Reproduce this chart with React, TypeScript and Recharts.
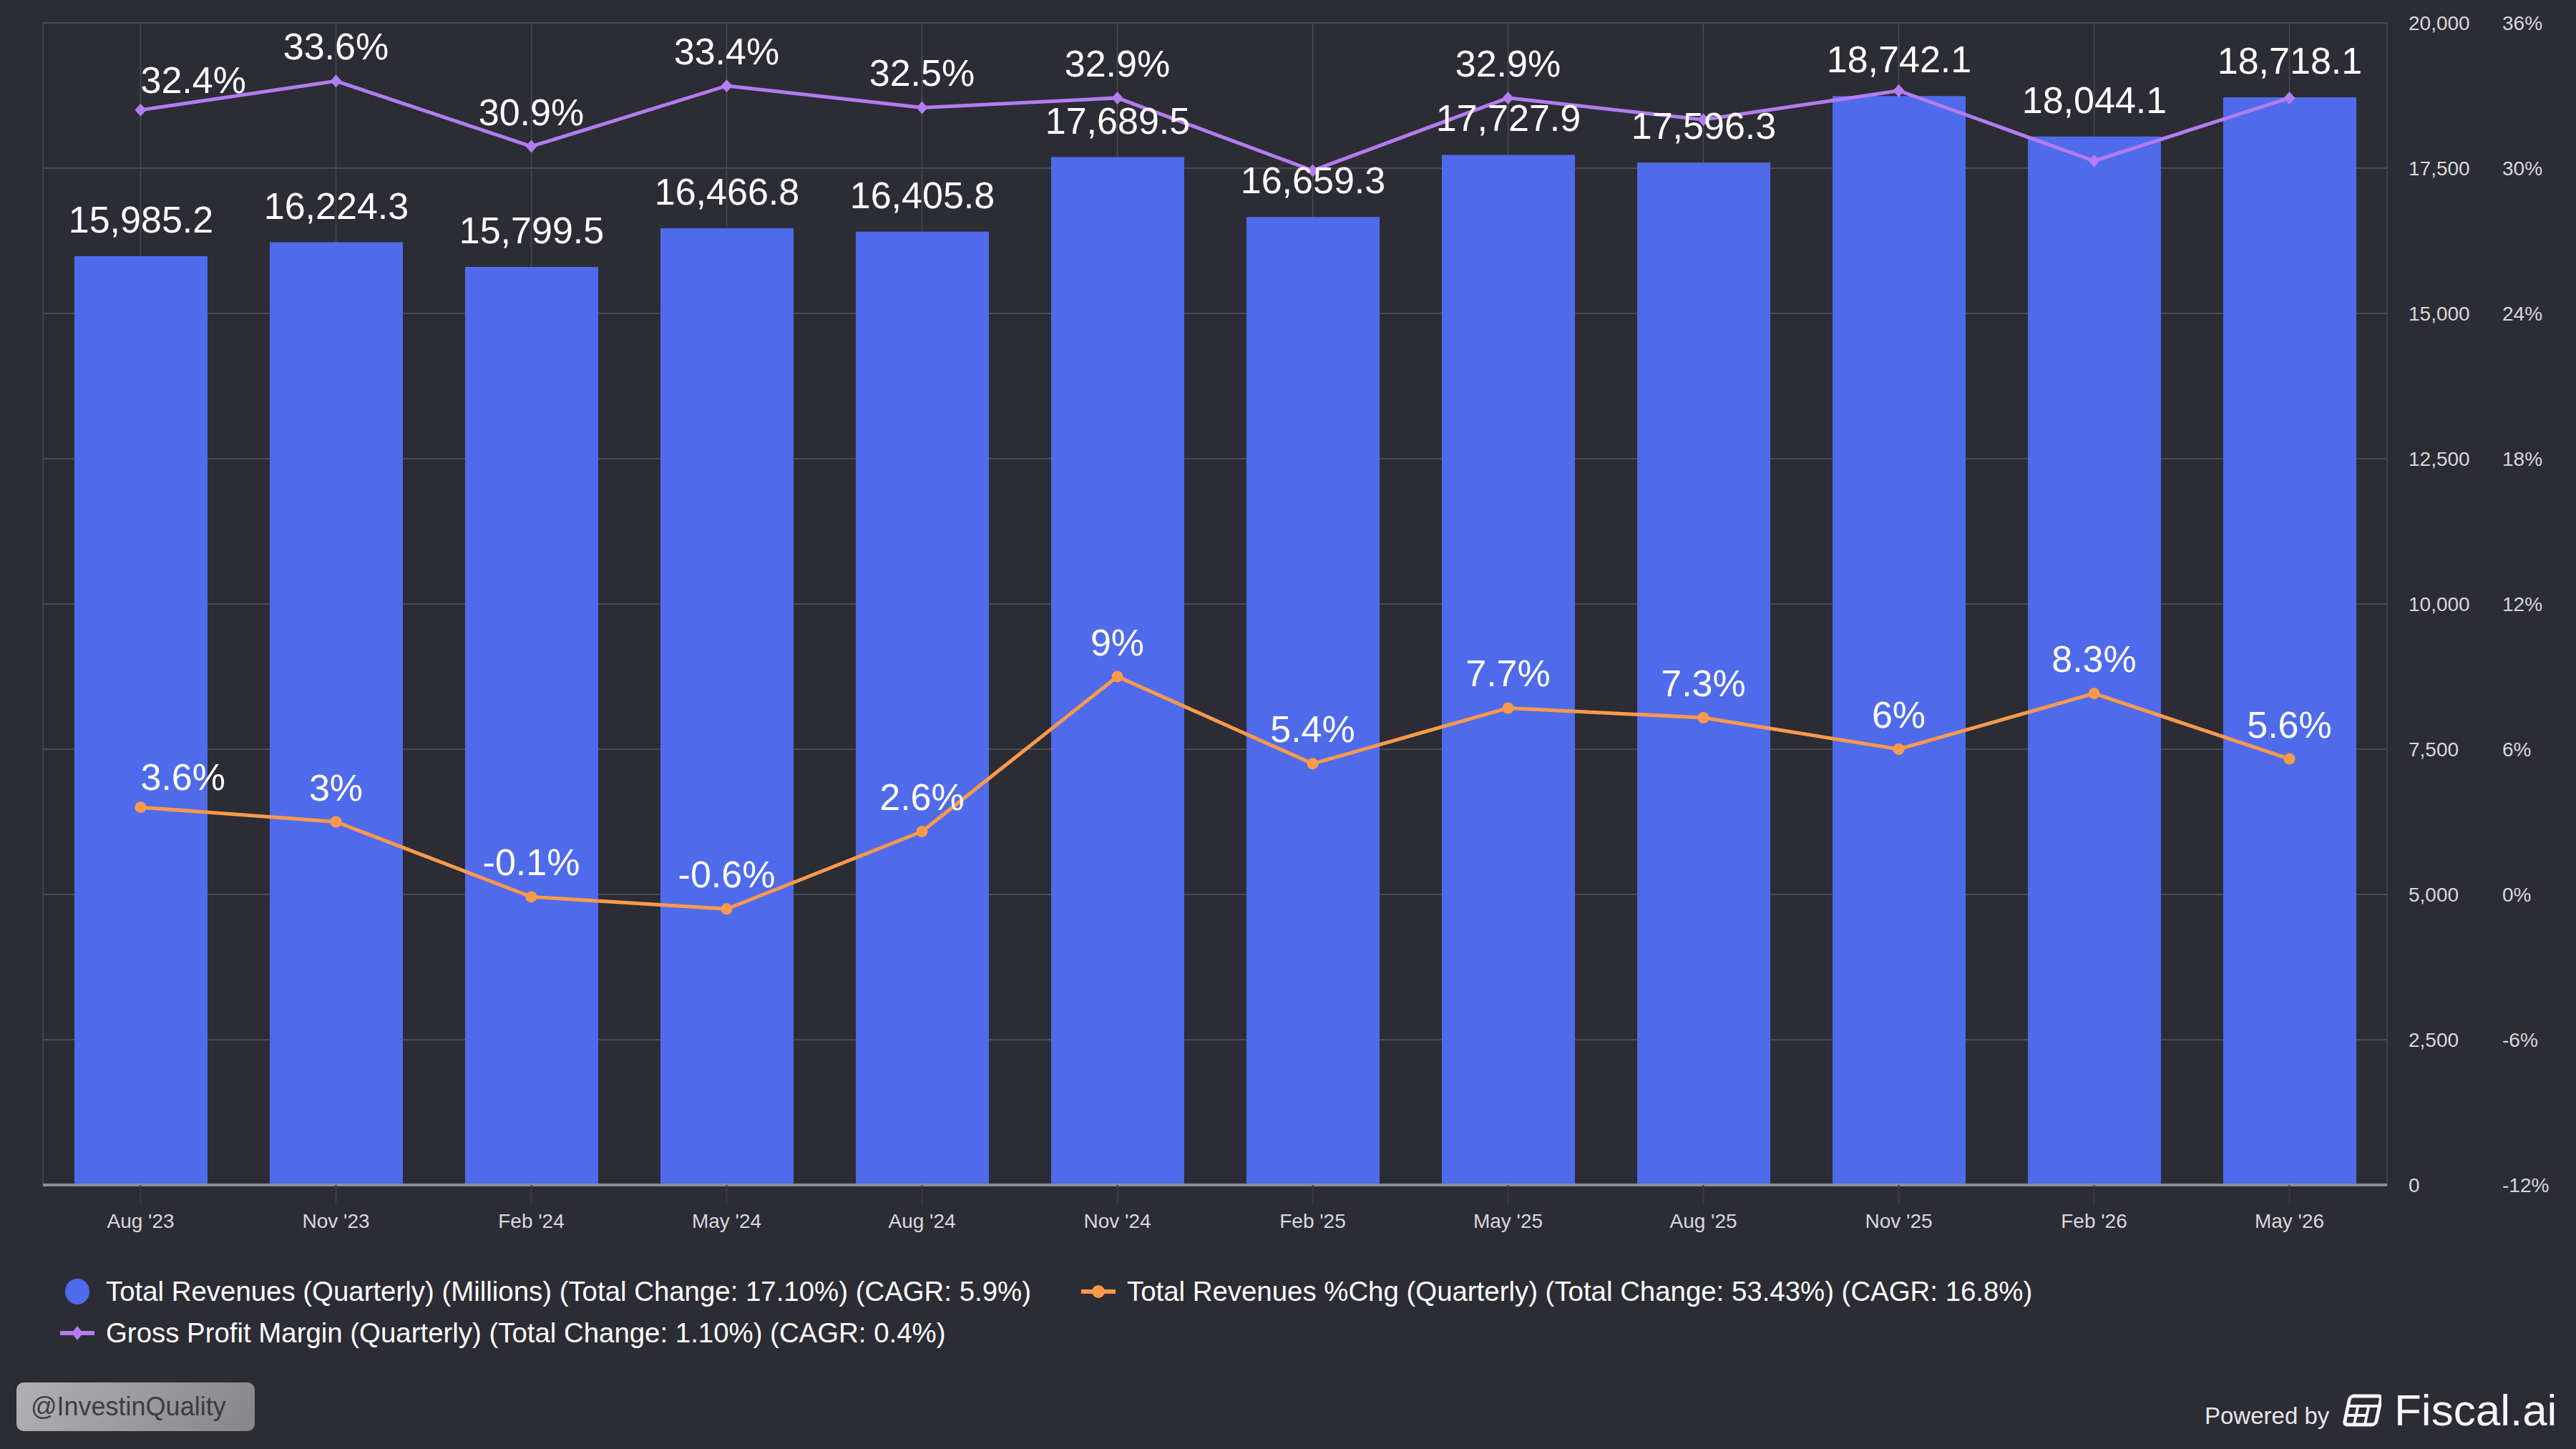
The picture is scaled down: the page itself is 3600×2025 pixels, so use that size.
import React from "react";
import {
  ComposedChart,
  Bar,
  Line,
  XAxis,
  YAxis,
  CartesianGrid,
  LabelList,
  Legend,
} from "recharts";

const quarters = ["Aug '23", "Nov '23", "Feb '24", "May '24", "Aug '24", "Nov '24", "Feb '25", "May '25", "Aug '25", "Nov '25", "Feb '26", "May '26"];
const revenues = [15985.2, 16224.3, 15799.5, 16466.8, 16405.8, 17689.5, 16659.3, 17727.9, 17596.3, 18742.1, 18044.1, 18718.1];
const revenueChg = [3.6, 3, -0.1, -0.6, 2.6, 9, 5.4, 7.7, 7.3, 6, 8.3, 5.6];
const grossMargin = [32.4, 33.6, 30.9, 33.4, 32.5, 32.9, 29.9, 32.9, 32.0, 33.2, 30.3, 32.9];
// the source hides margin labels that would collide with the bar labels
const marginLabelShown = [true, true, true, true, true, true, false, true, false, false, false, false];

const revenueTicks = [0, 2500, 5000, 7500, 10000, 12500, 15000, 17500, 20000];
const percentTicks = [-12, -6, 0, 6, 12, 18, 24, 30, 36];

const legendNames = [
  "Total Revenues (Quarterly) (Millions) (Total Change: 17.10%) (CAGR: 5.9%)",
  "Total Revenues %Chg (Quarterly) (Total Change: 53.43%) (CAGR: 16.8%)",
  "Gross Profit Margin (Quarterly) (Total Change: 1.10%) (CAGR: 0.4%)",
];

const BG = "#2c2c35";
const BLUE = "#4f6beb";
const ORANGE = "#fb9a4b";
const PURPLE = "#b37cf0";
const GRID = "#4a4a53";
const TICK = "#d8d8dc";

// numeric ids so the revenue axis sits next to the plot, the % axis outside it
const REV_AXIS = 0;
const PCT_AXIS = 1;

const data = quarters.map((q, i) => ({
  quarter: q,
  revenue: revenues[i],
  chg: revenueChg[i],
  margin: grossMargin[i],
}));

const fmtRevenue = (v: number) =>
  v.toLocaleString("en-US", { minimumFractionDigits: 1, maximumFractionDigits: 1 });

const OrangeDot = (props: any) => {
  const { cx, cy, index } = props;
  if (cx == null || cy == null) return null;
  return <circle key={`o-${index}`} cx={cx} cy={cy} r={8} fill={ORANGE} />;
};

const DiamondDot = (props: any) => {
  const { cx, cy, index } = props;
  if (cx == null || cy == null) return null;
  return (
    <polygon
      key={`d-${index}`}
      points={`${cx},${cy - 9} ${cx + 8},${cy} ${cx},${cy + 9} ${cx - 8},${cy}`}
      fill={PURPLE}
    />
  );
};

const makeLineLabel = (shown?: boolean[]) => (props: any) => {
  const { index, value } = props;
  if (shown && !shown[index]) return null;
  const vb = props.viewBox || {};
  const x = vb.x ?? props.x;
  const y = vb.y ?? props.y;
  if (x == null || y == null) return null;
  const first = index === 0;
  return (
    <text
      key={`l-${index}`}
      x={x}
      y={y - (first ? 24 : 30)}
      textAnchor={first ? "start" : "middle"}
      fill="#ffffff"
      fontSize={52}
    >
      {`${value}%`}
    </text>
  );
};

const LegendIcon = ({ i }: { i: number }) => {
  if (i === 0) {
    return (
      <svg width={56} height={40}>
        <ellipse cx={24} cy={20} rx={17} ry={18} fill={BLUE} />
      </svg>
    );
  }
  const color = i === 1 ? ORANGE : PURPLE;
  return (
    <svg width={56} height={40}>
      <line x1={0} y1={20} x2={48} y2={20} stroke={color} strokeWidth={6} />
      {i === 1 ? (
        <circle cx={24} cy={20} r={9} fill={color} />
      ) : (
        <polygon points="24,10 32,20 24,30 16,20" fill={color} />
      )}
    </svg>
  );
};

const LegendContent = () => (
  <div
    style={{
      display: "flex",
      flexWrap: "wrap",
      columnGap: 70,
      width: 3000,
      paddingLeft: 84,
      boxSizing: "border-box",
    }}
  >
    {legendNames.map((name, i) => (
      <div key={name} style={{ display: "flex", alignItems: "center", height: 58 }}>
        <LegendIcon i={i} />
        <span style={{ marginLeft: 8, color: "#ffffff", fontSize: 38.4, whiteSpace: "nowrap" }}>{name}</span>
      </div>
    ))}
  </div>
);

const FiscalLogo = () => (
  <svg width={54} height={46} viewBox="0 0 54 46">
    <g transform="skewX(-12) translate(8,0)">
      <rect x={3} y={3} width={44} height={40} rx={5} fill="none" stroke="#f5f5f5" strokeWidth={5} />
      <line x1={3} y1={17} x2={47} y2={17} stroke="#f5f5f5" strokeWidth={4} />
      <line x1={3} y1={30} x2={32} y2={30} stroke="#f5f5f5" strokeWidth={4} />
      <line x1={17} y1={17} x2={17} y2={43} stroke="#f5f5f5" strokeWidth={4} />
      <line x1={32} y1={17} x2={32} y2={43} stroke="#f5f5f5" strokeWidth={4} />
    </g>
  </svg>
);

export default function App() {
  return (
    <div
      style={{
        position: "absolute",
        left: 0,
        top: 0,
        width: 3600,
        height: 2025,
        background: BG,
        fontFamily: "'Liberation Sans', Arial, Helvetica, sans-serif",
        overflow: "hidden",
      }}
    >
      <ComposedChart
        width={3600}
        height={2025}
        data={data}
        margin={{ top: 32, left: 60, right: 33, bottom: 265 }}
      >
        <CartesianGrid yAxisId={REV_AXIS} vertical={false} stroke={GRID} strokeWidth={2} />
        <CartesianGrid yAxisId={REV_AXIS} horizontal={false} stroke={GRID} strokeWidth={1.5} />
        <XAxis
          dataKey="quarter"
          height={104}
          tickSize={27}
          tickMargin={13}
          tick={{ fill: TICK, fontSize: 28 }}
          tickLine={{ stroke: "#3b3b42", strokeWidth: 2 }}
          axisLine={{ stroke: "#8e8e96", strokeWidth: 4 }}
          interval={0}
        />
        <YAxis
          yAxisId={REV_AXIS}
          orientation="right"
          domain={[0, 20000]}
          ticks={revenueTicks}
          width={131}
          tickSize={0}
          tickMargin={30}
          axisLine={false}
          tickLine={false}
          tick={{ fill: TICK, fontSize: 28 }}
          tickFormatter={(v: number) => v.toLocaleString("en-US")}
        />
        <YAxis
          yAxisId={PCT_AXIS}
          orientation="right"
          domain={[-12, 36]}
          ticks={percentTicks}
          width={100}
          tickSize={0}
          tickMargin={30}
          axisLine={false}
          tickLine={false}
          tick={{ fill: TICK, fontSize: 28 }}
          tickFormatter={(v: number) => `${v}%`}
        />
        <Bar yAxisId={REV_AXIS} dataKey="revenue" fill={BLUE} barSize={186} isAnimationActive={false}>
          <LabelList
            dataKey="revenue"
            position="top"
            offset={33}
            fill="#ffffff"
            fontSize={52}
            formatter={(v: any) => fmtRevenue(Number(v))}
          />
        </Bar>
        <Line
          yAxisId={PCT_AXIS}
          dataKey="chg"
          stroke={ORANGE}
          strokeWidth={5}
          dot={OrangeDot}
          activeDot={false}
          isAnimationActive={false}
        >
          <LabelList dataKey="chg" content={makeLineLabel()} />
        </Line>
        <Line
          yAxisId={PCT_AXIS}
          dataKey="margin"
          stroke={PURPLE}
          strokeWidth={5}
          dot={DiamondDot}
          activeDot={false}
          isAnimationActive={false}
        >
          <LabelList dataKey="margin" content={makeLineLabel(marginLabelShown)} />
        </Line>
        <Legend
          layout="vertical"
          align="center"
          verticalAlign="middle"
          content={() => <LegendContent />}
          wrapperStyle={{ left: 0, top: 1776, width: 3000, height: 120 }}
        />
      </ComposedChart>

      <div
        style={{
          position: "absolute",
          left: 23,
          top: 1932,
          width: 333,
          height: 68,
          borderRadius: 10,
          background: "linear-gradient(120deg, #b1b1b5, #86868a)",
          color: "#3c3c40",
          fontSize: 36,
          lineHeight: "68px",
          paddingLeft: 20,
          boxSizing: "border-box",
        }}
      >
        @InvestinQuality
      </div>

      <div
        style={{
          position: "absolute",
          left: 3081,
          top: 1962,
          fontSize: 33,
          lineHeight: "33px",
          color: "#e6e6e8",
          whiteSpace: "nowrap",
        }}
      >
        Powered by
      </div>
      <div style={{ position: "absolute", left: 3274, top: 1948 }}>
        <FiscalLogo />
      </div>
      <div
        style={{
          position: "absolute",
          left: 3346,
          top: 1940,
          fontSize: 62,
          lineHeight: "62px",
          color: "#f7f7f7",
          whiteSpace: "nowrap",
        }}
      >
        Fiscal.ai
      </div>
    </div>
  );
}
